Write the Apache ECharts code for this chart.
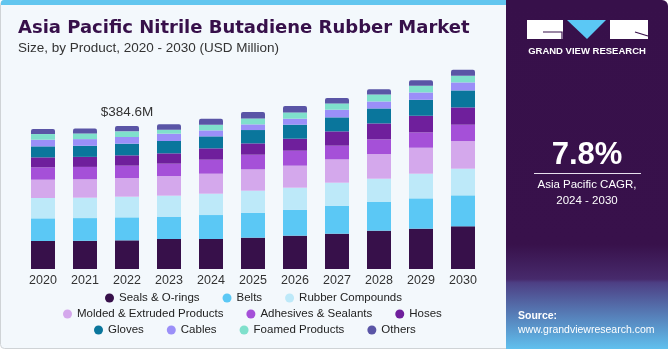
<!DOCTYPE html>
<html><head><meta charset="utf-8">
<script src="https://cdn.jsdelivr.net/npm/echarts@6/dist/echarts.min.js"></script>
<style>html,body{margin:0;padding:0;background:#fff}#c{width:671px;height:350px}</style>
</head><body><div id="c"></div>
<script>
const years = ['2020','2021','2022','2023','2024','2025','2026','2027','2028','2029','2030'];
const seriesNames = ['Seals & O-rings','Belts','Rubber Compounds','Molded & Extruded Products','Adhesives & Sealants','Hoses','Gloves','Cables','Foamed Products','Others'];
const sealsORings      = [75.3, 75.8, 77.1, 80.7, 80.7, 84.3, 89.7, 95.0, 103.1, 108.5, 114.8];
const belts            = [61.0, 61.2, 61.9, 60.1, 64.5, 67.2, 69.9, 75.3, 77.1, 81.6, 83.4];
const rubberCompounds  = [54.7, 54.9, 55.6, 56.5, 57.4, 59.2, 59.2, 61.9, 62.8, 66.3, 71.7];
const moldedExtruded   = [49.3, 49.5, 50.2, 52.9, 53.8, 57.4, 59.2, 62.8, 66.3, 69.9, 74.4];
const adhesivesSealants= [33.2, 33.3, 33.2, 33.2, 37.7, 39.4, 40.3, 36.8, 39.4, 41.2, 43.9];
const hoses            = [26.9, 27.0, 27.8, 27.8, 30.5, 30.5, 32.3, 38.5, 43.0, 44.8, 46.6];
const gloves           = [29.6, 29.8, 31.4, 33.2, 32.3, 35.9, 37.7, 37.7, 40.3, 43.0, 45.7];
const cables           = [17.9, 18.0, 17.9, 19.7, 16.1, 15.2, 16.1, 20.6, 18.8, 19.7, 21.5];
const foamedProducts   = [15.2, 15.3, 15.2, 10.8, 15.2, 16.1, 17.0, 17.0, 18.8, 17.9, 17.9];
const others           = [13.4, 13.5, 14.3, 14.3, 16.1, 17.0, 17.0, 14.3, 14.3, 15.2, 16.1];
const annotatedYear = '2022';
const annotationText = '$384.6M';
const cagrText = '7.8%';
const cagrLabel1 = 'Asia Pacific CAGR,';
const cagrLabel2 = '2024 - 2030';

const allValues = [sealsORings, belts, rubberCompounds, moldedExtruded, adhesivesSealants, hoses, gloves, cables, foamedProducts, others];
const colors = ['#37104a','#5bc8f5','#bde9f9','#d4a8ec','#a550d8','#6f1f9c','#0a769c','#9b8ff8','#7fe0cc','#5a55a6'];
const FONT = "'Liberation Sans', Arial, sans-serif";

const series = seriesNames.map((name, i) => {
  const isTop = i === seriesNames.length - 1;
  const data = allValues[i].map((v, j) => {
    if (isTop && years[j] === annotatedYear) {
      return {value: v, label: {show: true, position: 'top', distance: 7, formatter: annotationText,
        color: '#333', fontSize: 13.5, fontFamily: FONT}};
    }
    return v;
  });
  return {
    name, type: 'bar', stack: 'total', barWidth: 24, data,
    itemStyle: {color: colors[i], borderRadius: isTop ? [2,2,0,0] : 0},
    emphasis: {disabled: true}
  };
});

const legendRows = [
  {names: seriesNames.slice(0,3), left: 105, top: 292},
  {names: seriesNames.slice(3,6), left: 63, top: 308},
  {names: seriesNames.slice(6,10), left: 94, top: 324}
];
const legends = legendRows.map(r => ({
  data: r.names, left: r.left, top: r.top, padding: 0, itemGap: 23,
  icon: 'circle', itemWidth: 9, itemHeight: 9, selectedMode: false,
  textStyle: {color: '#222', fontSize: 11.5, fontFamily: FONT}
}));

const panelGrad = new echarts.graphic.LinearGradient(0,0,0,1,[
  {offset: 0, color: '#37104a'},
  {offset: 0.70, color: '#38114b'},
  {offset: 0.80, color: '#472a6c'},
  {offset: 0.81, color: '#4d3f84'},
  {offset: 1, color: '#60c0ee'}
]);

const graphics = [
  {type:'rect', z:-10, shape:{x:0.5,y:0.5,width:515,height:348,r:4}, style:{fill:'#f3f8fc', stroke:'#cfd3d6', lineWidth:1}},
  {type:'rect', z:-9, shape:{x:1,y:0,width:506,height:5,r:[3,0,0,0]}, style:{fill:'#62c6ef'}},
  {type:'rect', z:-8, shape:{x:506,y:0,width:162,height:349,r:[0,6,0,0]}, style:{fill: panelGrad}},
  {type:'text', left: 18, top: 19, style:{text:'Asia Pacific Nitrile Butadiene Rubber Market', fill:'#37104a', font:"bold 18px 'DejaVu Sans', sans-serif"}},
  {type:'text', left: 18, top: 41, style:{text:'Size, by Product, 2020 - 2030 (USD Million)', fill:'#333', font:"13.5px " + FONT}},
  // logo
  {type:'rect', shape:{x:527,y:20,width:36,height:19}, style:{fill:'#fff'}},
  {type:'polyline', shape:{points:[[543,32],[562,32],[562,39]]}, style:{stroke:'#37104a', lineWidth:1.2, fill:null}},
  {type:'polygon', shape:{points:[[567,20],[606,20],[587,39]]}, style:{fill:'#5bc8f5'}},
  {type:'rect', shape:{x:610,y:20,width:38,height:19}, style:{fill:'#fff'}},
  {type:'line', shape:{x1:635,y1:32,x2:648,y2:36}, style:{stroke:'#37104a', lineWidth:1.2}},
  {type:'text', x: 587, y: 51, style:{text:'GRAND VIEW RESEARCH', fill:'#fff', font:"bold 9.5px " + FONT, align:'center', verticalAlign:'middle'}},
  {type:'text', x: 587, y: 155, style:{text: cagrText, fill:'#fff', font:"bold 31px " + FONT, align:'center', verticalAlign:'middle'}},
  {type:'line', shape:{x1:534,y1:173.5,x2:641,y2:173.5}, style:{stroke:'#e8e0ee', lineWidth:1}},
  {type:'text', x: 587, y: 185, style:{text: cagrLabel1, fill:'#fff', font:"11.5px " + FONT, align:'center', verticalAlign:'middle'}},
  {type:'text', x: 587, y: 201, style:{text: cagrLabel2, fill:'#fff', font:"11.5px " + FONT, align:'center', verticalAlign:'middle'}},
  {type:'text', x: 518, y: 316, style:{text:'Source:', fill:'#fff', font:"bold 10.5px " + FONT, align:'left', verticalAlign:'middle'}},
  {type:'text', x: 518, y: 330, style:{text:'www.grandviewresearch.com', fill:'#fff', font:"10.5px " + FONT, align:'left', verticalAlign:'middle'}}
];

const chart = echarts.init(document.getElementById('c'), null, {renderer:'canvas'});
chart.setOption({
  animation: false,
  grid: {left: 22, right: 187, top: 46, bottom: 81, containLabel: false},
  xAxis: {type:'category', data: years, axisLine:{show:false}, axisTick:{show:false},
    axisLabel:{color:'#333', fontSize:12.5, fontFamily: FONT, margin:5}},
  yAxis: {type:'value', min:0, max:600, show:false, splitLine:{show:false}},
  legend: legends,
  series,
  graphic: graphics
});
</script></body></html>
